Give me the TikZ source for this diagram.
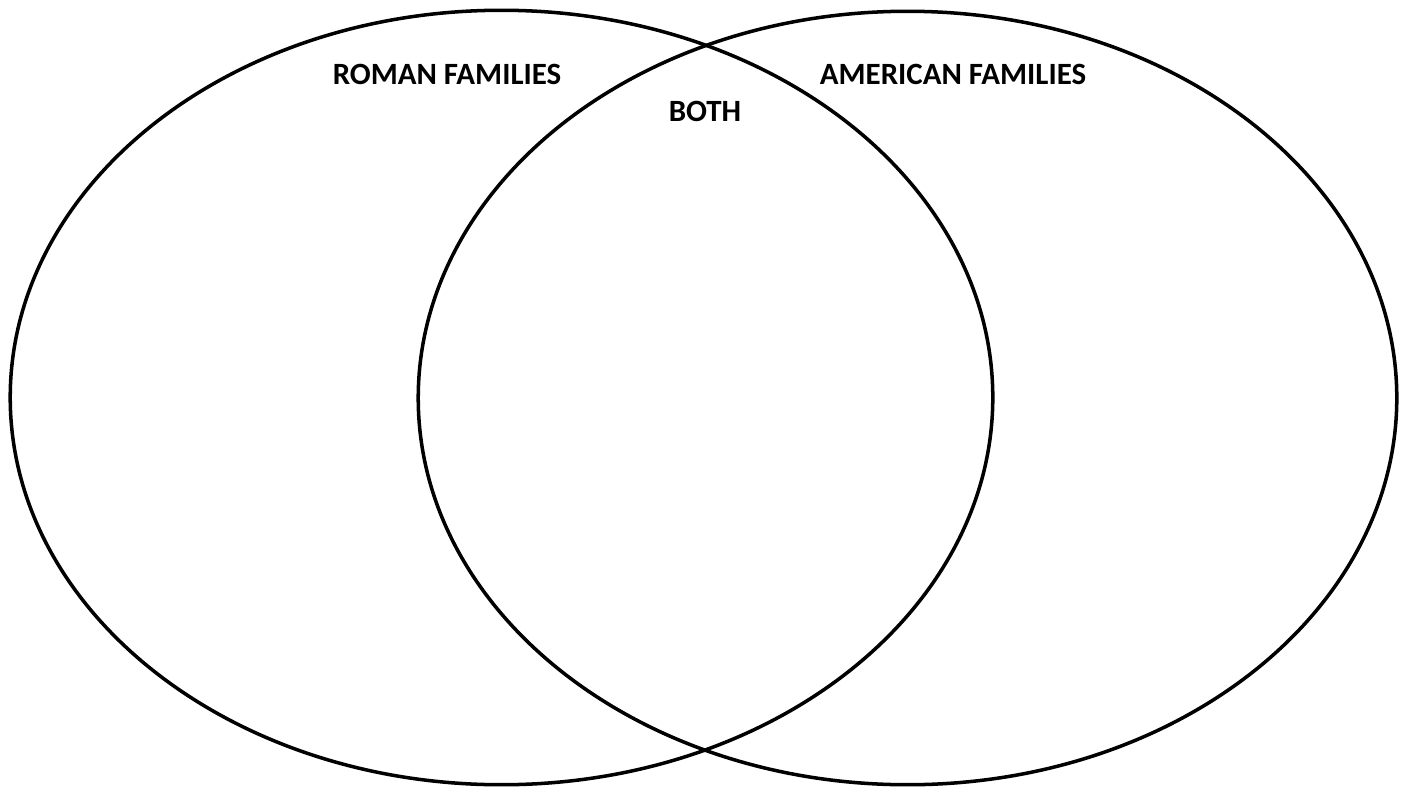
\documentclass[tikz,border=0pt]{standalone}
\usepackage{fontspec}
\setmainfont{Carlito}
\usetikzlibrary{shapes.geometric}

\begin{document}
\begin{tikzpicture}[x=0.01cm,y=-0.01cm,
        set/.style={draw,ellipse,line width=1pt,inner sep=0pt},
        lbl/.style={font=\bfseries\fontsize{8.8}{10}\selectfont,inner sep=0pt}
      ]
        \useasboundingbox (0,0) rectangle (1401,794);
        \node[set,minimum width=9.82cm,minimum height=7.74cm] (roman) at (501.5,397.5) {};
        \node[set,minimum width=9.78cm,minimum height=7.73cm] (american) at (907.5,398) {};
        \node[lbl] (romanlbl) at (447,74) {ROMAN FAMILIES};
        \node[lbl] (americanlbl) at (953,74) {AMERICAN FAMILIES};
        \node[lbl] (both) at (705,111) {BOTH};
      \end{tikzpicture}
\end{document}
